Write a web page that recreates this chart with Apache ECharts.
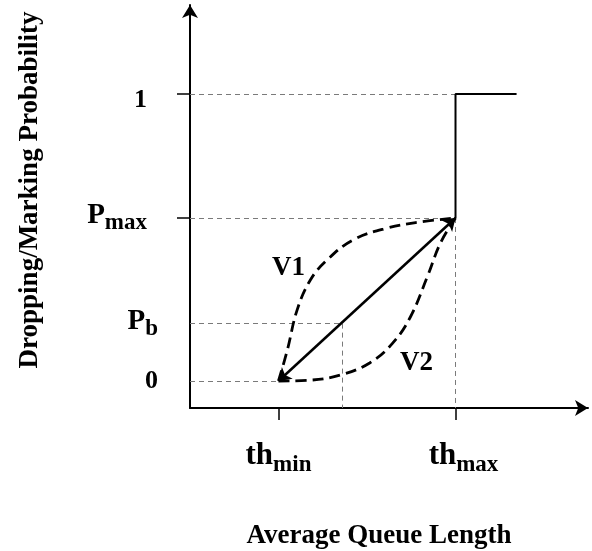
<!DOCTYPE html>
<html>
<head>
<meta charset="utf-8">
<script src="https://cdn.jsdelivr.net/npm/echarts@6/dist/echarts.min.js"></script>
<style>
html,body{margin:0;padding:0;background:#fff;}
#chart{width:592px;height:551px;}
</style>
</head>
<body>
<div id="chart"></div>
<script>
// ---- data ----
const thMin = 1, thMax = 3;
const pMax = 0.568, pB = 0.2, pBx = 1.72;
const stepEndX = 3.69;
const xRange = [0, 4.497];
const yRange = [-0.094, 1.310];

const xTickValues = [thMin, thMax];
const xTickLabels = ['{t|th}{s|min}', '{tx|th}{s|max}'];
const yTickValues = [0, pB, pMax, 1];
const yTickLabels = ['{d|0}', '{P|P}{sb|b}', '{P|P}{sm|max}', '{d1|1}'];
const yTickMarks = [pMax, 1];

const v1X = [1, 1.10, 1.21, 1.36, 1.55, 1.84, 2.23, 2.60, 3];
const v1Y = [0, 0.108, 0.247, 0.352, 0.422, 0.491, 0.533, 0.554, 0.568];
const v2X = [1, 1.36, 1.70, 2.03, 2.29, 2.49, 2.68, 2.83, 3];
const v2Y = [0, 0.003, 0.021, 0.063, 0.132, 0.223, 0.362, 0.481, 0.568];

const curveNames = ['V1', 'V2'];
const curveLabelX = [1.113, 2.559];
const curveLabelY = [0.394, 0.063];

const xTitle = 'Average Queue Length';
const yTitle = 'Dropping/Marking Probability';

// ---- build ----
const FF = '"Liberation Serif", "Times New Roman", serif';
const zip = (xs, ys) => xs.map((x, i) => [x, ys[i]]);

const stepLine = [[thMax, pMax], [thMax, 1], [stepEndX, 1]];
const guideLines = [
  [[xRange[0], 1], [thMax, 1]],
  [[xRange[0], pMax], [thMax, pMax]],
  [[xRange[0], pB], [pBx, pB]],
  [[xRange[0], 0], [thMin, 0]],
  [[pBx, pB], [pBx, yRange[0]]],
  [[thMax, pMax], [thMax, yRange[0]]]
];

function lookup(vals, labels, v) {
  for (let i = 0; i < vals.length; i++) if (Math.abs(vals[i] - v) < 1e-6) return labels[i];
  return '';
}

const base = {fontFamily: FF, fontWeight: 'bold', color: '#000', verticalAlign: 'bottom'};
const mk = o => Object.assign({}, base, o);

const chart = echarts.init(document.getElementById('chart'), null, {renderer: 'canvas'});
chart.setOption({
  animation: false,
  backgroundColor: '#fff',
  grid: {left: 190, right: 4, top: 5, bottom: 143, containLabel: false},
  xAxis: {
    type: 'value', min: xRange[0], max: xRange[1],
    splitLine: {show: false},
    axisLine: {onZero: false, lineStyle: {color: '#000', width: 2}, symbol: ['none', 'arrow'], symbolSize: [12, 13]},
    axisTick: {show: true, customValues: xTickValues, length: 12, lineStyle: {color: '#000', width: 1.5}},
    axisLabel: {
      customValues: xTickValues, margin: 32,
      formatter: v => lookup(xTickValues, xTickLabels, v),
      rich: {
        t: mk({fontSize: 31, padding: [0, 0, 6, 0]}),
        tx: mk({fontSize: 31, padding: [0, 0, 6, 16]}),
        s: mk({fontSize: 23})
      }
    }
  },
  yAxis: {
    type: 'value', min: yRange[0], max: yRange[1],
    splitLine: {show: false},
    axisLine: {onZero: false, lineStyle: {color: '#000', width: 2}, symbol: ['none', 'arrow'], symbolSize: [12, 13]},
    axisTick: {show: true, customValues: yTickMarks, length: 13, lineStyle: {color: '#000', width: 1.5}},
    axisLabel: {
      customValues: yTickValues, margin: 32,
      formatter: v => lookup(yTickValues, yTickLabels, v),
      rich: {
        d: mk({fontSize: 26}),
        d1: mk({fontSize: 26, padding: [12, 11, 0, 0]}),
        P: mk({fontSize: 29, padding: [0, 0, 5, 0]}),
        sb: mk({fontSize: 23}),
        sm: mk({fontSize: 23, padding: [0, 11, 0, 0]})
      }
    }
  },
  graphic: [
    {type: 'text', x: 379, y: 536, style: {text: xTitle, font: 'bold 27px ' + FF, fill: '#000', align: 'center', verticalAlign: 'middle'}},
    {type: 'text', x: 30, y: 190, rotation: Math.PI / 2, style: {text: yTitle, font: 'bold 27px ' + FF, fill: '#000', align: 'center', verticalAlign: 'middle'}}
  ],
  series: [
    {
      type: 'lines', coordinateSystem: 'cartesian2d', silent: true,
      lineStyle: {color: '#7a7a7a', width: 1, type: [5, 4], opacity: 1},
      data: guideLines.map(c => ({coords: c})), z: 1
    },
    {
      type: 'line', data: stepLine, symbol: 'none', silent: true,
      lineStyle: {color: '#000', width: 2}, z: 3
    },
    {
      type: 'line', data: zip(v1X, v1Y), symbol: 'none', smooth: 0.4, silent: true,
      lineStyle: {color: '#000', width: 2.8, type: [11, 6]}, z: 3
    },
    {
      type: 'line', data: zip(v2X, v2Y), symbol: 'none', smooth: 0.4, silent: true,
      lineStyle: {color: '#000', width: 2.8, type: [11, 6]}, z: 3
    },
    {
      type: 'lines', coordinateSystem: 'cartesian2d', silent: true,
      symbol: ['arrow', 'arrow'], symbolSize: 12,
      lineStyle: {color: '#000', width: 2.5, opacity: 1},
      data: [{coords: [[thMin, 0], [thMax, pMax]]}], z: 4
    },
    {
      type: 'scatter', symbolSize: 0, silent: true,
      itemStyle: {opacity: 1},
      data: curveNames.map((n, i) => ({name: n, value: [curveLabelX[i], curveLabelY[i]]})),
      label: {show: true, position: 'inside', formatter: p => p.name, fontFamily: FF, fontWeight: 'bold', fontSize: 27, color: '#000', opacity: 1}
    }
  ]
});
</script>
</body>
</html>
